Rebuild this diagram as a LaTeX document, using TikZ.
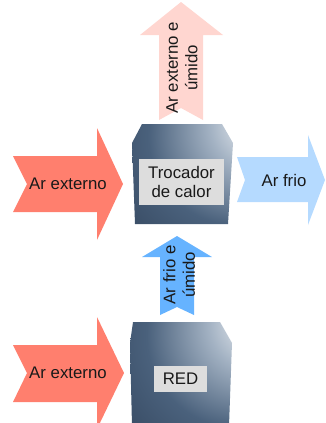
\documentclass[tikz,border=0pt]{standalone}
\usepackage{fontspec}
\setmainfont{Liberation Sans}

\definecolor{salmao}{HTML}{FF7F6E}
\definecolor{rosaClaro}{HTML}{FFD6D0}
\definecolor{azulClaro}{HTML}{B5DAFF}
\definecolor{azulMedio}{HTML}{66B3FF}
\definecolor{visorCinza}{HTML}{DDDDDD}
\definecolor{caixaEscura}{HTML}{2C3D54}
\definecolor{caixaMedia}{HTML}{4A617C}
\definecolor{caixaClara}{HTML}{A3B2C3}

\pgfdeclareradialshading{caixa}{\pgfpoint{44bp}{30bp}}{%
  color(0bp)=(white); color(8bp)=(white!75!caixaClara);
  color(22bp)=(caixaClara); color(44bp)=(caixaMedia);
  color(75bp)=(caixaEscura); color(115bp)=(caixaEscura)}

\begin{document}
\begin{tikzpicture}[x=1pt,y=-1pt,
	texto/.style={font=\fontsize{16.8}{19.5}\selectfont, text=black!90, align=center, inner sep=0pt},
	visor/.style={texto, fill=visorCinza}]
	\useasboundingbox (0,0) rectangle (326,423);

	% seta de saida (em cima)
	\fill[rosaClaro] (159,120) -- (159,35) -- (140,35) -- (181,2) -- (223,35) -- (203,35) -- (203,120) -- (181,108) -- cycle;
	\node[texto, rotate=90] (saida) at (182,68) {Ar externo e\\úmido};

	% trocador de calor
	\shade[shading=caixa] (142,124) -- (222,124) -- (233,143) -- (228,224) -- (135,224) -- (132,143) -- cycle;
	\node[visor, minimum width=85pt, minimum height=46pt] (trocador) at (181.5,182) {Trocador\\de calor};

	% ar externo -> trocador
	\fill[salmao] (13,156) -- (97,156) -- (97,128) -- (123,184) -- (97,240) -- (97,212) -- (13,212) -- (27,184) -- cycle;
	\node[texto] (externoA) at (68,184) {Ar externo};

	% ar frio (direita)
	\fill[azulClaro] (237,157) -- (308,157) -- (308,135) -- (325,180) -- (308,225) -- (308,202) -- (237,202) -- (245,180) -- cycle;
	\node[texto] (frio) at (284,180) {Ar frio};

	% ar frio e umido (RED -> trocador)
	\fill[azulMedio] (160,315) -- (160,257) -- (142,257) -- (177,236) -- (212,257) -- (194,257) -- (194,315) -- (177,307) -- cycle;
	\node[texto, rotate=90] (umido) at (179,275) {Ar frio e\\úmido};

	% RED
	\shade[shading=caixa] (133,322) -- (220,322) -- (232,343) -- (229,426) -- (132,426) -- (130,343) -- cycle;
	\node[visor, minimum width=53pt, minimum height=26pt] (red) at (180.5,379) {RED};

	% ar externo -> RED
	\fill[salmao] (13,345) -- (97,345) -- (97,317) -- (124,373) -- (97,429) -- (97,402) -- (13,402) -- (27,373) -- cycle;
	\node[texto] (externoB) at (68,373) {Ar externo};
\end{tikzpicture}
\end{document}
